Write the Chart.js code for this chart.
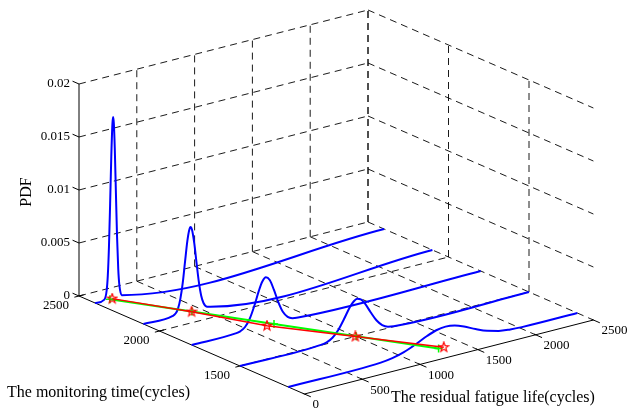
<!DOCTYPE html>
<html>
<head>
<meta charset="utf-8">
<script src="https://cdn.jsdelivr.net/npm/chart.js@4"></script>
<style>
  html, body { margin: 0; padding: 0; background: #fff; }
  #wrap { width: 627px; height: 408px; }
</style>
</head>
<body>
<div id="wrap"><canvas id="chart"></canvas></div>
<script>
// monitoring times (one PDF curve each)
const tMonitor = [2400, 2100, 1800, 1500, 1200];

// residual life samples and PDF values
const life1 = [0, 80, 100, 110, 120, 130, 140, 150, 156, 162, 170, 180, 190, 200, 210, 230, 2500];
const pdf1  = [0, 0.0001, 0.0009, 0.0023, 0.0050, 0.0090, 0.0134, 0.0165, 0.0171, 0.0165, 0.0142, 0.0099, 0.0057, 0.0027, 0.0011, 0.0001, 0];
const life2 = [0, 250, 280, 300, 320, 340, 360, 380, 395, 408, 420, 440, 460, 480, 500, 520, 550, 580, 2500];
const pdf2  = [0, 0.00004, 0.00023, 0.00064, 0.0015, 0.0029, 0.00485, 0.00675, 0.0077, 0.0080, 0.00775, 0.0064, 0.00445, 0.0026, 0.00127, 0.00053, 0.0001, 0, 0];
const life3 = [0, 380, 420, 460, 500, 540, 580, 610, 642, 675, 710, 750, 790, 830, 870, 920, 2500];
const pdf3  = [0, 0.00003, 0.00012, 0.00039, 0.00103, 0.00212, 0.00346, 0.00426, 0.0046, 0.00424, 0.00326, 0.00193, 0.0009, 0.00033, 0.0001, 0.00002, 0];
const life4 = [0, 700, 750, 800, 850, 900, 950, 985, 1015, 1045, 1080, 1130, 1180, 1230, 1280, 1330, 2500];
const pdf4  = [0, 0.00004, 0.00014, 0.00043, 0.00102, 0.00192, 0.00289, 0.00336, 0.0035, 0.00336, 0.00289, 0.00192, 0.00102, 0.00043, 0.00014, 0.00004, 0];
const life5 = [0, 800, 900, 1000, 1100, 1200, 1280, 1360, 1440, 1520, 1620, 1720, 1820, 1920, 2020, 2500];
const pdf5  = [0, 0.00007, 0.00021, 0.0005, 0.00094, 0.00146, 0.00178, 0.0019, 0.00178, 0.00146, 0.00094, 0.0005, 0.00021, 0.00007, 0.00001, 0];

// predicted (red stars) and actual (green) residual life
const predLife   = [148, 417, 651, 998, 1345];
const actualLife = [128, 420, 712, 1005, 1300];

// ticks
const pdfTicks   = [0, 0.005, 0.01, 0.015, 0.02];
const pdfLabels  = ['0', '0.005', '0.01', '0.015', '0.02'];
const timeTicks  = [2500, 2000, 1500];
const lifeTicks  = [0, 500, 1000, 1500, 2000, 2500];

// axis limits
const tMax = 2500, tMin = 1100, lifeMax = 2500, zMax = 0.02;

// oblique view of (time, life, pdf) onto the page
const view = { ox: 79, oy: 296, ux: 0.161, uy: 0.070, vx: 0.1156, vy: -0.0296, wy: -10600 };
function proj(t, r, z) {
  const s = tMax - t;
  return { x: view.ox + s * view.ux + r * view.vx, y: view.oy + s * view.uy + r * view.vy + z * view.wy };
}

function makeStar(color, size) {
  const c = document.createElement('canvas');
  c.width = c.height = size;
  const g = c.getContext('2d');
  g.strokeStyle = color;
  g.lineWidth = 1.2;
  g.beginPath();
  for (let k = 0; k < 10; k++) {
    const rad = k % 2 === 0 ? size / 2 - 1 : (size / 2 - 1) * 0.42;
    const a = -Math.PI / 2 + k * Math.PI / 5;
    const x = size / 2 + rad * Math.cos(a), y = size / 2 + rad * Math.sin(a);
    k ? g.lineTo(x, y) : g.moveTo(x, y);
  }
  g.closePath();
  g.stroke();
  return c;
}

const curves = [[life1, pdf1], [life2, pdf2], [life3, pdf3], [life4, pdf4], [life5, pdf5]];

const serif = '"Liberation Serif", "Times New Roman", serif';

// grid, axes, ticks and labels of the 3D box
const box3d = {
  id: 'box3d',
  beforeDatasetsDraw(chart) {
    const ctx = chart.ctx;
    const sx = chart.scales.x, sy = chart.scales.y;
    const px = (t, r, z) => { const p = proj(t, r, z); return [sx.getPixelForValue(p.x), sy.getPixelForValue(p.y)]; };
    const line = (a, b) => { ctx.beginPath(); ctx.moveTo(a[0], a[1]); ctx.lineTo(b[0], b[1]); ctx.stroke(); };

    ctx.save();
    ctx.strokeStyle = '#000';
    ctx.lineWidth = 0.9;
    ctx.setLineDash([7, 5]);
    // back wall (t = 2500)
    pdfTicks.forEach(z => line(px(tMax, 0, z), px(tMax, lifeMax, z)));
    lifeTicks.filter(r => r > 0).forEach(r => line(px(tMax, r, 0), px(tMax, r, zMax)));
    // side wall (life = 2500)
    pdfTicks.forEach(z => line(px(tMax, lifeMax, z), px(tMin, lifeMax, z)));
    timeTicks.forEach(t => line(px(t, lifeMax, 0), px(t, lifeMax, zMax)));
    // floor
    lifeTicks.filter(r => r > 0 && r < lifeMax).forEach(r => line(px(tMax, r, 0), px(tMin, r, 0)));
    timeTicks.filter(t => t < tMax).forEach(t => line(px(t, 0, 0), px(t, lifeMax, 0)));

    // axis lines
    ctx.setLineDash([]);
    ctx.lineWidth = 1;
    line(px(tMax, 0, 0), px(tMax, 0, zMax));
    line(px(tMax, 0, 0), px(tMin, 0, 0));
    line(px(tMin, 0, 0), px(tMin, lifeMax, 0));

    // tick marks
    pdfTicks.forEach(z => line(px(tMax, 0, z), px(tMax + 40, 0, z)));
    timeTicks.forEach(t => line(px(t, -40, 0), px(t, 40, 0)));
    lifeTicks.forEach(r => line(px(tMin + 10, r, 0), px(tMin - 40, r, 0)));

    // tick labels
    ctx.fillStyle = '#000';
    ctx.font = '13px ' + serif;
    ctx.textBaseline = 'middle';
    ctx.textAlign = 'right';
    pdfTicks.forEach((z, i) => { const p = px(tMax, 0, z); ctx.fillText(pdfLabels[i], p[0] - 9, p[1]); });
    timeTicks.forEach(t => { const p = px(t, 0, 0); ctx.fillText(String(t), p[0] - 10, p[1] + 10); });
    ctx.textAlign = 'left';
    lifeTicks.forEach(r => { const p = px(tMin, r, 0); ctx.fillText(String(r), p[0] + 8, p[1] + 11); });

    // axis titles
    ctx.font = '16px ' + serif;
    ctx.textAlign = 'left';
    ctx.fillText('The monitoring time(cycles)', 7, 393);
    ctx.fillText('The residual fatigue life(cycles)', 391, 398);
    ctx.save();
    ctx.translate(27, 192);
    ctx.rotate(-Math.PI / 2);
    ctx.textAlign = 'center';
    ctx.fillText('PDF', 0, 0);
    ctx.restore();

    ctx.restore();
  }
};

const datasets = curves.map((c, i) => ({
  data: c[0].map((r, j) => proj(tMonitor[i], r, c[1][j])),
  showLine: true,
  borderColor: '#0000ff',
  borderWidth: 2,
  pointRadius: 0,
  cubicInterpolationMode: 'monotone',
  order: 3
}));

datasets.push({
  data: tMonitor.map((t, i) => proj(t, actualLife[i], 0)),
  showLine: true,
  borderColor: '#00ff00',
  borderWidth: 2,
  pointStyle: 'cross',
  pointRadius: 4,
  pointBorderColor: '#00ff00',
  pointBorderWidth: 1.5,
  order: 2
});

datasets.push({
  data: tMonitor.map((t, i) => proj(t, predLife[i], 0)),
  showLine: true,
  borderColor: '#ff0000',
  borderWidth: 1.5,
  pointStyle: makeStar('#ff0000', 12),
  pointRadius: 6,
  order: 1
});

new Chart(document.getElementById('chart').getContext('2d'), {
  type: 'scatter',
  data: { datasets },
  options: {
    responsive: true,
    maintainAspectRatio: false,
    animation: false,
    layout: { padding: 0, autoPadding: false },
    plugins: { legend: { display: false }, tooltip: { enabled: false } },
    scales: {
      x: { type: 'linear', min: 0, max: 627, display: false },
      y: { type: 'linear', min: 0, max: 408, reverse: true, display: false }
    }
  },
  plugins: [box3d]
});
</script>
</body>
</html>
